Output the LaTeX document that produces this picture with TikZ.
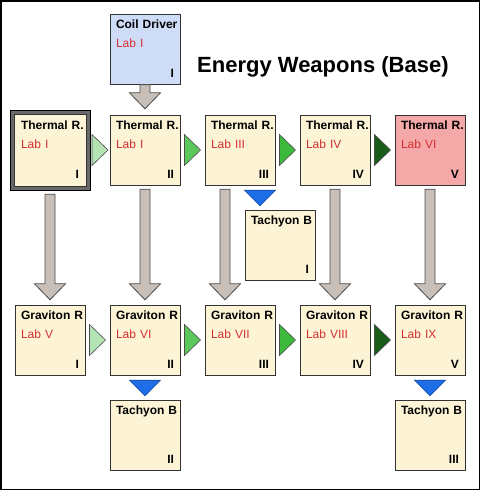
\documentclass[tikz,border=0pt]{standalone}
\usepackage{fontspec}
\setmainfont{Liberation Sans}
\usepackage{xcolor}
\usetikzlibrary{calc}

\definecolor{cream}{RGB}{253,244,214}
\definecolor{coilblue}{RGB}{207,220,247}
\definecolor{hotred}{RGB}{245,168,168}
\definecolor{labred}{RGB}{212,48,48}
\definecolor{framegray}{RGB}{105,105,105}
\definecolor{arrowgray}{RGB}{201,191,185}
\definecolor{tachblue}{RGB}{30,110,232}
\definecolor{greenA}{RGB}{180,228,180}
\definecolor{greenB}{RGB}{92,200,92}
\definecolor{greenC}{RGB}{60,185,60}
\definecolor{greenD}{RGB}{26,92,26}

% text of a tech box: name, lab, level
\newcommand{\techtext}[3]{\mbox{\textbf{#1}}\\\mbox{\textcolor{labred}{#2}}\\[11pt]\hfill\textbf{#3}\hspace*{3pt}}
% gray block arrow from one point down to another
\newcommand{\downblock}[2]{%
  \draw[grayarrow] let \p1=(#1), \p2=(#2) in
    (\x1-5pt,\y1) -- (\x1+5pt,\y1) -- (\x1+5pt,\y2+16pt) -- (\x1+15.5pt,\y2+16pt)
    -- (\x1,\y2) -- (\x1-15.5pt,\y2+16pt) -- (\x1-5pt,\y2+16pt) -- cycle;}
% green triangle between two boxes of a row
\newcommand{\stepTri}[3]{%
  \draw[steptri, fill=#3] let \p1=($(#1.east)!.5!(#2.west)$) in
    (\x1-8pt,\y1+15.5pt) -- (\x1+8pt,\y1) -- (\x1-8pt,\y1-15.5pt) -- cycle;}
% blue triangle down to a Tachyon box
\newcommand{\tachTri}[2]{%
  \draw[tachtri] let \p1=($(#1.south)!.5!(#2.north)$), \p2=(#1.south), \p3=(#2.north) in
    (\x1-15.5pt,\y2-5pt) -- (\x1+15.5pt,\y2-5pt) -- (\x1,\y3+4pt) -- cycle;}

\begin{document}
\begin{tikzpicture}[x=1pt, y=-1pt,
    box/.style={draw=black!80, fill=cream, minimum width=70pt, minimum height=70pt,
      inner sep=0pt, text width=58pt, align=left, font=\fontsize{12}{19}\selectfont},
    selframe/.style={draw=black, fill=framegray, minimum size=80pt, inner sep=0pt},
    grayarrow/.style={draw=black!70, fill=arrowgray, line width=0.8pt},
    steptri/.style={draw=black!70, line width=0.6pt},
    tachtri/.style={draw=tachblue!70!black, fill=tachblue, line width=0.6pt},
    titletext/.style={font=\fontsize{22}{26}\selectfont\bfseries, inner sep=0pt}]
  \useasboundingbox (0,0) rectangle (481,491);
  \draw[line width=1.5pt] (0.75,0.75) rectangle (479.5,489.5);

  \node[titletext, anchor=base west] (title) at (197,72.5) {Energy Weapons (Base)};

  \node[box, fill=coilblue] (cd) at (145,49) {\techtext{Coil Driver}{Lab I}{I}};

  % thermal row
  \node[selframe] (t1f) at (50,150) {};
  \node[box, minimum width=72pt, minimum height=72pt] (t1) at (50,150) {\techtext{Thermal R.}{Lab I}{I}};
  \node[box] (t2) at (145,150) {\techtext{Thermal R.}{Lab I}{II}};
  \node[box] (t3) at (240,150) {\techtext{Thermal R.}{Lab III}{III}};
  \node[box] (t4) at (335,150) {\techtext{Thermal R.}{Lab IV}{IV}};
  \node[box, fill=hotred] (t5) at (430,150) {\techtext{Thermal R.}{Lab VI}{V}};

  \node[box] (tb1) at (280,245) {\techtext{Tachyon B}{}{I}};

  % graviton row
  \node[box] (g1) at (50,340) {\techtext{Graviton R}{Lab V}{I}};
  \node[box] (g2) at (145,340) {\techtext{Graviton R}{Lab VI}{II}};
  \node[box] (g3) at (240,340) {\techtext{Graviton R}{Lab VII}{III}};
  \node[box] (g4) at (335,340) {\techtext{Graviton R}{Lab VIII}{IV}};
  \node[box] (g5) at (430,340) {\techtext{Graviton R}{Lab IX}{V}};

  \node[box] (tb2) at (145,435) {\techtext{Tachyon B}{}{II}};
  \node[box] (tb3) at (430,435) {\techtext{Tachyon B}{}{III}};

  % arrows
  \downblock{$(cd.south)+(0,0.5)$}{$(t2.north)+(0,-6)$}
  \downblock{$(t1f.south)+(0,4)$}{$(g1.north)+(0,-5)$}
  \downblock{$(t2.south)+(0,4)$}{$(g2.north)+(0,-5)$}
  \downblock{$(t3.south)+(-15,4)$}{$(g3.north)+(-15,-5)$}
  \downblock{$(t4.south)+(0,4)$}{$(g4.north)+(0,-5)$}
  \downblock{$(t5.south)+(0,4)$}{$(g5.north)+(0,-5)$}

  \stepTri{t1f}{t2}{greenA}
  \stepTri{t2}{t3}{greenB}
  \stepTri{t3}{t4}{greenC}
  \stepTri{t4}{t5}{greenD}
  \stepTri{g1}{g2}{greenA}
  \stepTri{g2}{g3}{greenB}
  \stepTri{g3}{g4}{greenC}
  \stepTri{g4}{g5}{greenD}

  \tachTri{t3}{tb1}
  \tachTri{g2}{tb2}
  \tachTri{g5}{tb3}
\end{tikzpicture}
\end{document}
